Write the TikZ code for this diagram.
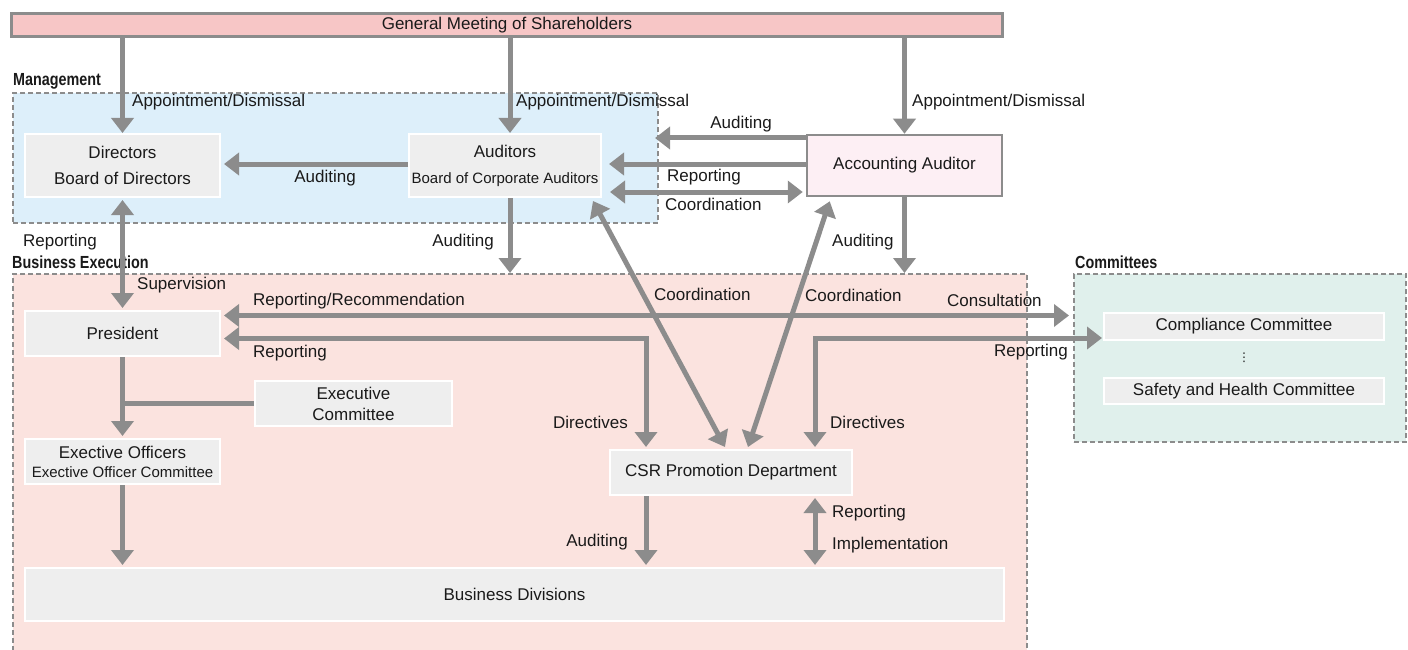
\documentclass[tikz,border=0pt]{standalone}
\usepackage{fontspec}
\setmainfont{Liberation Sans}
\newfontfamily\grpfont[FakeStretch=0.82]{Liberation Sans}
\newfontfamily\symfont{DejaVu Sans}
\usepackage{tikz}
\usetikzlibrary{
    arrows.meta,
    positioning
}
\usepackage{xcolor}
\definecolor{linegray}{HTML}{8C8C8C}
\definecolor{boxgray}{HTML}{EEEEEE}
\definecolor{gmpink}{HTML}{F7C6C6}
\definecolor{mgmtblue}{HTML}{DDEFFA}
\definecolor{bepink}{HTML}{FBE3DF}
\definecolor{commgreen}{HTML}{E0F0EC}
\definecolor{acctpink}{HTML}{FDEFF4}
\definecolor{txtblack}{HTML}{1A1A1A}

\begin{document}
\begin{tikzpicture}[
        x=1pt, y=-1pt,
        font=\fontsize{17}{20}\selectfont,
        text=txtblack,
        box/.style={
            draw=white,
            line width=2pt,
            fill=boxgray,
            align=center,
            inner sep=0pt
        },
        region/.style={
            draw=linegray,
            line width=2pt,
            dash pattern=on 5pt off 3pt,
            inner sep=0pt
        },
        group/.style={
            font=\grpfont\bfseries\fontsize{17.5}{20}\selectfont,
            anchor=west,
            inner sep=0pt
        },
        lbl/.style={inner sep=0pt},
        arr/.style={
            draw=linegray,
            line width=5pt,
            -{Triangle[width=22pt,length=15pt]}
        },
        darr/.style={
            arr,
            {Triangle[width=22pt,length=15pt]}-{Triangle[width=22pt,length=15pt]}
        },
        plain/.style={draw=linegray, line width=5pt}
    ]

    \useasboundingbox (0,0) rectangle (1408,650);

    \node[region, fill=mgmtblue, minimum width=645, minimum height=130] (mgmt) at (335.5,158) {};
    \node[region, fill=bepink, minimum width=1014, minimum height=384] (BE) at (520,466) {};
    \node[region, fill=commgreen, minimum width=332, minimum height=168] (comm) at (1240,358) {};

    \node[group] (mgmtlbl) at (13,81) {Management};
    \node[group] (belbl) at (12,262) {Business Execution};
    \node[group] (commlbl) at (1075,262) {Committees};

    \node[draw=linegray, line width=3pt, fill=gmpink, inner sep=0pt,
          minimum width=991, minimum height=23] (GM) at (507,25) {General Meeting of Shareholders};

    \node[box, minimum width=195, minimum height=63] (Dir) at (122.5,165.5) {
        Directors\\[6pt]
        Board of Directors
    };

    \node[box, minimum width=192, minimum height=63] (Aud) at (505,165.5) {
        Auditors\\[6pt]
        {\fontsize{15}{18}\selectfont Board of Corporate Auditors}
    };

    \node[box, draw=linegray, line width=2.5pt, fill=acctpink,
          minimum width=195, minimum height=61] (Acct) at (904.5,165.5) {Accounting Auditor};

    \node[box, minimum width=195, minimum height=45] (Pres) at (122.5,333.5) {President};

    \node[box, minimum width=197, minimum height=45] (Exec) at (353.5,403.5) {
        Executive\\[1pt]
        Committee
    };

    \node[box, minimum width=195, minimum height=45] (EO) at (122.5,461.5) {
        Exective Officers\\[-1pt]
        {\fontsize{15}{18}\selectfont Exective Officer Committee}
    };

    \node[box, minimum width=242, minimum height=45] (CSR) at (731,472.5) {CSR Promotion Department};

    \node[box, minimum width=979, minimum height=53] (BD) at (514.5,594.5) {Business Divisions};

    \node[box, minimum width=280, minimum height=27] (Comp) at (1244,326.5) {Compliance Committee};
    \node[lbl] (dots) at (1244,358) {\symfont\fontsize{12}{12}\selectfont ⋮};
    \node[box, minimum width=280, minimum height=26] (Safe) at (1244,391) {Safety and Health Committee};

    \coordinate (audtop) at ([xshift=5]Aud.north);
    \coordinate (audbot) at ([xshift=5]Aud.south);
    \coordinate (acctA) at ([yshift=27.5]Acct.west);
    \coordinate (acctR) at ([yshift=1.5]Acct.west);
    \coordinate (acctC) at ([yshift=-26.5]Acct.west);
    \coordinate (audD) at ([yshift=1.5]Aud.west);
    \coordinate (audcoord) at ([xshift=-9,yshift=-3]Aud.south east);
    \coordinate (acctcoord) at ([xshift=24,yshift=-4]Acct.south west);
    \coordinate (csrA) at ([xshift=-6,yshift=2]CSR.north);
    \coordinate (csrB) at ([xshift=17,yshift=2]CSR.north);
    \coordinate (csrL) at ([xshift=-85]CSR.north);
    \coordinate (csrR) at ([xshift=84]CSR.north);
    \coordinate (csrLb) at ([xshift=-85]CSR.south);
    \coordinate (csrRb) at ([xshift=84]CSR.south);
    \coordinate (presRec) at ([yshift=18]Pres.east);
    \coordinate (presRep) at ([yshift=-5]Pres.east);
    \coordinate (compRep) at ([yshift=-11.5]Comp.west);

    \draw[arr] (GM.south -| Dir.north) -- (Dir.north);
    \draw[arr] (GM.south -| audtop) -- (audtop);
    \draw[arr] (GM.south -| Acct.north) -- (Acct.north);

    \draw[arr, shorten >=-4pt] (acctA) -- (acctA -| mgmt.east);
    \draw[arr, shorten >=7pt] (acctR) -- (acctR -| Aud.east);
    \draw[darr, shorten <=3pt, shorten >=8pt] (acctC) -- (acctC -| Aud.east);
    \draw[arr, shorten >=3pt] (audD) -- (audD -| Dir.east);

    \draw[darr, shorten <=2pt, shorten >=2pt] (Dir.south) -- (Pres.north);
    \draw[arr] (audbot) -- (audbot |- BE.north);
    \draw[arr] (Acct.south) -- (Acct.south |- BE.north);

    \draw[darr] (audcoord) -- (csrA);
    \draw[darr] (acctcoord) -- (csrB);

    \draw[darr, shorten <=3pt, shorten >=4pt] (presRec) -- (presRec -| comm.west);
    \draw[darr, shorten <=3pt, shorten >=2pt] (presRep) -| (csrL);
    \draw[darr, shorten <=1pt, shorten >=2pt] (compRep) -| (csrR);

    \draw[plain] (Exec.west) -- (Exec.west -| Pres.south);
    \draw[arr, shorten >=2pt] (Pres.south) -- (EO.north);
    \draw[arr, shorten >=2pt] (EO.south) -- (EO.south |- BD.north);
    \draw[arr, shorten >=2pt] (csrLb) -- (csrLb |- BD.north);
    \draw[darr, shorten <=2pt, shorten >=2pt] (csrRb) -- (csrRb |- BD.north);

    \node[lbl, anchor=west] at (132,102) {Appointment/Dismissal};
    \node[lbl, anchor=west] at (516,102) {Appointment/Dismissal};
    \node[lbl, anchor=west] at (912,102) {Appointment/Dismissal};
    \node[lbl] at (741,124) {Auditing};
    \node[lbl] at (325,178) {Auditing};
    \node[lbl, anchor=west] at (667,177) {Reporting};
    \node[lbl, anchor=west] at (665,204) {Coordination};
    \node[lbl, anchor=east] at (97,242) {Reporting};
    \node[lbl, anchor=west] at (137,285) {Supervision};
    \node[lbl, anchor=east] at (494,242) {Auditing};
    \node[lbl, anchor=west] at (832,242) {Auditing};
    \node[lbl, anchor=west] at (654,294) {Coordination};
    \node[lbl, anchor=west] at (805,295) {Coordination};
    \node[lbl, anchor=west] at (253,301) {Reporting/Recommendation};
    \node[lbl, anchor=west] at (947,300) {Consultation};
    \node[lbl, anchor=west] at (253,353) {Reporting};
    \node[lbl, anchor=east] at (1068,352) {Reporting};
    \node[lbl, anchor=east] at (628,422) {Directives};
    \node[lbl, anchor=west] at (830,422) {Directives};
    \node[lbl, anchor=east] at (628,542) {Auditing};
    \node[lbl, anchor=west] at (832,513) {Reporting};
    \node[lbl, anchor=west] at (832,545) {Implementation};

\end{tikzpicture}
\end{document}
